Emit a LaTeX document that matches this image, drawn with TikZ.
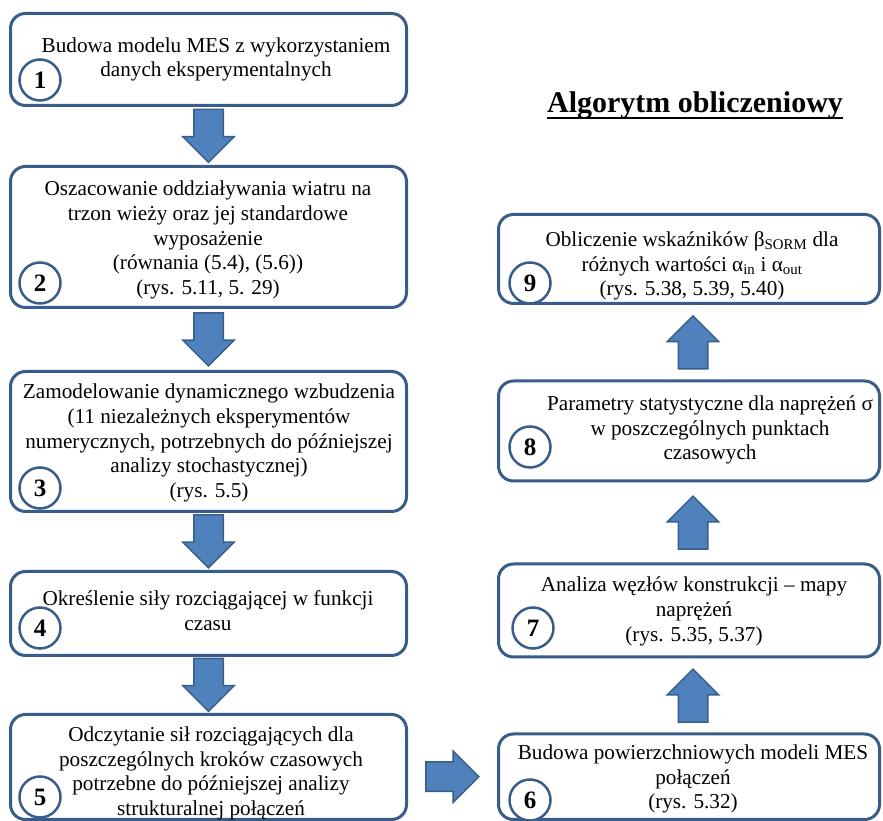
\documentclass[tikz,border=0pt]{standalone}
\usepackage{fontspec}
\setmainfont{Liberation Serif}
\usetikzlibrary{shapes.arrows}
\definecolor{ramka}{HTML}{385D8A}
\definecolor{wypelnienie}{HTML}{4F81BD}

\tikzset{
	blok/.style={draw=ramka, line width=3pt, rounded corners=15pt, inner sep=0pt},
	lewy/.style={blok, minimum width=396pt},
	prawy/.style={blok, minimum width=381pt},
	krok/.style={circle, draw=ramka, line width=2.5pt, fill=white, minimum size=41pt, inner sep=0pt, font=\fontsize{25}{25}\selectfont\bfseries},
	opis/.style={align=center, inner sep=0pt, font=\fontsize{21.2}{24.8}\selectfont},
	strzalka/.style={single arrow, draw=ramka, fill=wypelnienie, line width=1.5pt, inner xsep=0pt, inner ysep=14pt, single arrow head extend=11pt, minimum height=53pt},
	% srodek ksztaltu lezy blizej ogona, wiec cofamy grot
	cofnij/.style={xshift=-7.5pt}
}

\begin{document}
\begin{tikzpicture}[x=1pt, y=1pt]
	\useasboundingbox (0,0) rectangle (883,821);
	\clip (0,0) rectangle (883,821);

	% Lewa kolumna (kroki 1-5)
	\node[lewy, minimum height=92pt] (b1) at (208.5,761.5) {};
	\node[lewy, minimum height=141pt] (b2) at (208.5,584) {};
	\node[lewy, minimum height=140pt] (b3) at (208.5,379.5) {};
	\node[lewy, minimum height=84pt] (b4) at (208.5,207.5) {};
	\node[lewy, minimum height=105pt] (b5) at (208.5,54) {};

	% Prawa kolumna (kroki 6-9)
	\node[prawy, minimum height=85.5pt] (b6) at (689,44.25) {};
	\node[prawy, minimum height=93pt] (b7) at (689,210.5) {};
	\node[prawy, minimum height=100pt] (b8) at (689,390) {};
	\node[prawy, minimum height=89pt] (b9) at (689,562) {};

	% Opisy krokow
	\node[opis] (t1) at (216,761.5) {Budowa modelu MES z wykorzystaniem\\danych eksperymentalnych};
	\node[opis] (t2) at (208,581) {Oszacowanie oddziaływania wiatru na\\trzon wieży oraz jej standardowe\\wyposażenie\\(równania (5.4), (5.6))\\(rys. 5.11, 5. 29)};
	\node[opis] (t3) at (209,378) {Zamodelowanie dynamicznego wzbudzenia\\(11 niezależnych eksperymentów\\numerycznych, potrzebnych do późniejszej\\analizy stochastycznej)\\(rys. 5.5)};
	\node[opis] (t4) at (208,210.5) {Określenie siły rozciągającej w funkcji\\czasu};
	\node[opis] (t5) at (211,47.5) {Odczytanie sił rozciągających dla\\poszczególnych kroków czasowych\\potrzebne do późniejszej analizy\\strukturalnej połączeń};
	\node[opis] (t6) at (693,42) {Budowa powierzchniowych modeli MES\\połączeń\\(rys. 5.32)};
	\node[opis] (t7) at (694,209.5) {Analiza węzłów konstrukcji – mapy\\naprężeń\\(rys. 5.35, 5.37)};
	\node[opis] (t8) at (710,391) {Parametry statystyczne dla naprężeń σ\\w poszczególnych punktach\\czasowych};
	\node[opis] (t9) at (692,555) {Obliczenie wskaźników β\textsubscript{SORM} dla\\różnych wartości α\textsubscript{in} i α\textsubscript{out}\\(rys. 5.38, 5.39, 5.40)};

	% Numery krokow
	\node[krok] (k1) at (40,741) {1};
	\node[krok] (k2) at (40,538) {2};
	\node[krok] (k3) at (40,333) {3};
	\node[krok] (k4) at (40,193) {4};
	\node[krok] (k5) at (40,24) {5};
	\node[krok] (k6) at (530,21) {6};
	\node[krok] (k7) at (533,193) {7};
	\node[krok] (k8) at (530,374) {8};
	\node[krok] (k9) at (530,538) {9};

	% Strzalki w dol
	\path (b1.south) -- (b2.north) node[midway, strzalka, rotate=-90, cofnij] (s12) {};
	\path (b2.south) -- (b3.north) node[midway, strzalka, rotate=-90, cofnij] (s23) {};
	\path (b3.south) -- (b4.north) node[midway, strzalka, rotate=-90, cofnij] (s34) {};
	\path (b4.south) -- (b5.north) node[midway, strzalka, rotate=-90, cofnij] (s45) {};

	% Strzalka w prawo
	\path (b5.east |- b6.west) -- (b6.west) node[midway, strzalka, cofnij] (s56) {};

	% Strzalki w gore
	\path ([xshift=4pt]b6.north) -- ([xshift=4pt]b7.south) node[midway, strzalka, rotate=90, cofnij] (s67) {};
	\path ([xshift=4pt]b7.north) -- ([xshift=4pt]b8.south) node[midway, strzalka, rotate=90, cofnij] (s78) {};
	\path ([xshift=4pt]b8.north) -- ([xshift=4pt]b9.south) node[midway, strzalka, rotate=90, cofnij] (s89) {};

	% Tytul
	\node[inner sep=0pt, anchor=base, font=\fontsize{30}{30}\selectfont\bfseries] (tytul) at (695,708) {Algorytm obliczeniowy};
	\draw[line width=2pt] ([yshift=-5pt]tytul.base west) -- ([yshift=-5pt]tytul.base east);
\end{tikzpicture}
\end{document}
